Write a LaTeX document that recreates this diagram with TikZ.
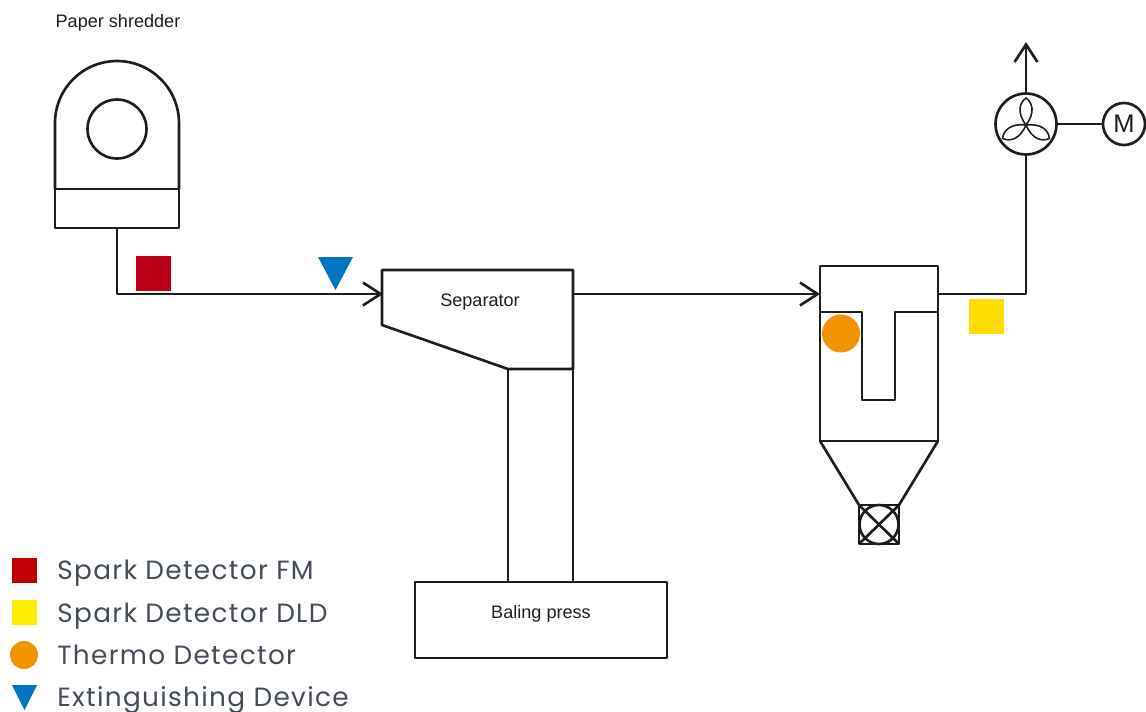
\documentclass[tikz,border=0pt]{standalone}
\usepackage{fontspec}
\setmainfont{Liberation Sans}
\newfontfamily\legendfont[LetterSpace=5.0]{Poppins}
\usetikzlibrary{arrows.meta}

\definecolor{linecol}{HTML}{1D1D1B}
\definecolor{legendcol}{HTML}{434C58}
\definecolor{fmred}{HTML}{BE0016}
\definecolor{legendred}{HTML}{C00000}
\definecolor{dldyellow}{HTML}{FFDD00}
\definecolor{legendyellow}{HTML}{FFED00}
\definecolor{thermoorange}{HTML}{F39200}
\definecolor{extblue}{HTML}{0075BF}

\tikzset{
  line/.style   = {draw=linecol,line width=1.5pt,line join=round},
  flow/.style   = {line,-{Straight Barb[length=10pt,width=13pt,line width=1.5pt]}},
  block/.style  = {line,rectangle,inner sep=0pt,outer sep=0pt},
  disc/.style   = {line,circle,inner sep=0pt,outer sep=0pt},
  marker/.style = {rectangle,inner sep=0pt,outer sep=0pt,minimum size=#1},
  label/.style  = {text=linecol,font=\fontsize{10.3}{12}\selectfont,inner sep=0pt},
  legend/.style = {anchor=base west,text=legendcol,inner sep=0pt,
                   font=\legendfont\fontsize{15}{18}\selectfont}
}

\begin{document}
\begin{tikzpicture}[x=0.02cm,y=-0.02cm]
  \useasboundingbox (0,0) rectangle (1146,711);

  % shredder
  \node[label] (shreddertext) at (118,23) {Paper shredder};
  \node[block,minimum width=2.48cm,minimum height=0.78cm] (shredbase) at (117,208.5) {};
  \draw[line] (55,189) -- (55,123) arc[start angle=180,end angle=0,radius=1.24cm] -- (179,189);
  \node[disc,minimum size=1.18cm] (drum) at (117,129) {};

  % separator
  \draw[line] (382,270) -- (573,270) -- (573,369) -- (508,369) -- (382,325) -- cycle;
  \node[label] (septext) at (480,302.5) {Separator};
  \coordinate (sepin) at (383,294);
  \coordinate (sepout) at (573,294);
  \node[block,minimum width=1.30cm,minimum height=4.26cm] (chute) at (540.5,475.5) {};
  \node[block,minimum width=5.04cm,minimum height=1.52cm] (press) at (541,620) {};
  \node[label] (presstext) at (541,613.5) {Baling press};

  % filter
  \node[block,minimum width=2.36cm,minimum height=3.50cm] (filter) at (879,353.5) {};
  \coordinate (filterin) at (820,294);
  \coordinate (filterout) at (938,294);
  \draw[line] (820,312) -- (862,312) -- (862,400) -- (895,400) -- (895,312) -- (938,312);
  \node[block,minimum width=0.80cm,minimum height=0.78cm] (valve) at (879,524.5) {};
  \draw[line] (filter.south west) -- (valve.north west);
  \draw[line] (filter.south east) -- (valve.north east);
  \node[disc,minimum size=0.78cm] at (valve.center) {};
  \draw[line] (valve.north west) -- (valve.south east);
  \draw[line] (valve.north east) -- (valve.south west);

  % fan and motor
  \node[disc,minimum size=1.22cm] (fan) at (1026,124) {};
  \node[disc,minimum size=0.84cm,font=\fontsize{14.5}{16}\selectfont,text=linecol] (motor) at (1124,124) {M};
  \coordinate (exhaust) at (1026,42);
  \foreach \ang in {0,120,240}
    \draw[draw=linecol,line width=0.9pt,rotate around={\ang:(1026,125)}]
      (1026,125) .. controls (1017,113) and (1019,103) .. (1026,98)
                 .. controls (1033,103) and (1035,113) .. (1026,125);

  % connections
  \draw[flow] (shredbase.south) |- (sepin);
  \draw[flow] (sepout) -- (filterin);
  \draw[line] (filterout) -| (fan.south);
  \draw[flow] (fan.north) -- (exhaust);
  \draw[line] (fan.east) -- (motor.west);

  % detectors
  \node[marker=0.70cm,fill=fmred] (fm) at (153.5,273.5) {};
  \fill[extblue] (318,257) -- (353,257) -- (335.5,290) -- cycle;
  \node[circle,fill=thermoorange,inner sep=0pt,minimum size=0.76cm] (thermo) at (841,333.5) {};
  \node[marker=0.70cm,fill=dldyellow] (dld) at (986.5,316.5) {};

  % legend
  \node[marker=0.50cm,fill=legendred] (keyfm) at (24.5,570.5) {};
  \node[legend] (textfm) at (57,579) {Spark Detector FM};
  \node[marker=0.50cm,fill=legendyellow] (keydld) at (24.5,612.5) {};
  \node[legend] (textdld) at (57,622) {Spark Detector DLD};
  \node[circle,fill=thermoorange,inner sep=0pt,minimum size=0.56cm] (keythermo) at (24,655) {};
  \node[legend] (textthermo) at (57,664) {Thermo Detector};
  \fill[extblue] (12,685) -- (37,685) -- (24.5,710) -- cycle;
  \node[legend] (textext) at (57,706) {Extinguishing Device};
\end{tikzpicture}
\end{document}
